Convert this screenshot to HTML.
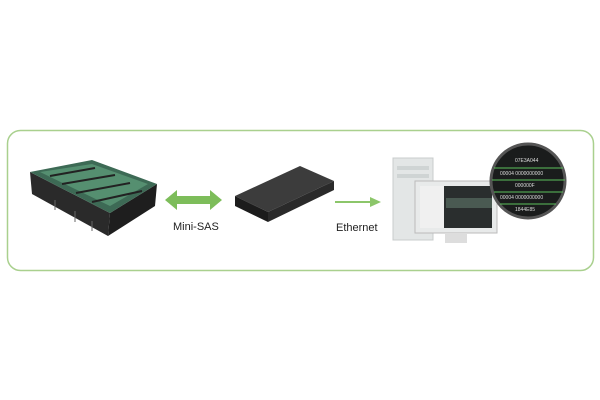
<!DOCTYPE html><html><head><style>html,body{margin:0;padding:0;background:#fff}svg{display:block}</style></head><body>
<svg width="600" height="400" viewBox="0 0 600 400" xmlns="http://www.w3.org/2000/svg" font-family="Liberation Sans, sans-serif">
<rect x="7.5" y="130.5" width="586" height="140" rx="13" fill="none" stroke="#a9d08e" stroke-width="1.5"/>
<!-- board -->
<polygon points="30,172 32,194 108,236 110,213" fill="#2a2a2a"/>
<polygon points="110,213 108,236 155,206 157,184" fill="#1e1e1e"/>
<polygon points="30,172 92,160 157,184 110,213" fill="#3d6a55"/>
<polygon points="40,172 92,164 148,184 110,206" fill="#558f70"/>
<g stroke="#222" stroke-width="2"><line x1="50" y1="176" x2="95" y2="168"/><line x1="62" y1="184" x2="115" y2="175"/><line x1="76" y1="193" x2="130" y2="183"/><line x1="92" y1="202" x2="142" y2="191"/></g>
<g stroke="#666" stroke-width="1"><line x1="55" y1="200" x2="55" y2="210"/><line x1="75" y1="211" x2="75" y2="222"/><line x1="92" y1="221" x2="92" y2="231"/></g>
<!-- double arrow -->
<polygon points="165,200 177,190 177,196 210,196 210,190 222,200 210,210 210,204 177,204 177,210" fill="#7dbd5a"/>
<text x="173" y="230" font-size="11" fill="#222">Mini-SAS</text>
<!-- rack -->
<polygon points="235,196 300,166 334,181 268,212" fill="#3c3c3c"/>
<polygon points="235,196 268,212 268,222 235,206" fill="#1c1c1c"/>
<polygon points="268,212 334,181 334,190 268,222" fill="#2a2a2a"/>
<!-- ethernet arrow -->
<line x1="335" y1="202" x2="372" y2="202" stroke="#8cc66a" stroke-width="2"/>
<polygon points="370,197 381,202 370,207" fill="#8cc66a"/>
<text x="336" y="231" font-size="11" fill="#222">Ethernet</text>
<!-- tower -->
<rect x="393" y="158" width="40" height="82" fill="#e3e6e6" stroke="#c8cccc"/>
<rect x="397" y="166" width="32" height="4" fill="#cfd4d4"/>
<rect x="397" y="174" width="32" height="4" fill="#cfd4d4"/>
<!-- monitor -->
<rect x="415" y="181" width="82" height="52" fill="#e8eaea" stroke="#bbb"/>
<rect x="420" y="186" width="72" height="42" fill="#2a2e2e"/>
<rect x="420" y="186" width="24" height="42" fill="#f0f0f0"/>
<rect x="446" y="198" width="46" height="10" fill="#4a5a52"/>
<rect x="445" y="233" width="22" height="10" fill="#ddd"/>
<!-- magnifier -->
<circle cx="528" cy="181" r="37" fill="#1a1c1c" stroke="#555" stroke-width="3"/>
<g stroke="#5cbf5c" stroke-width="1"><line x1="494" y1="168" x2="563" y2="168"/><line x1="492" y1="180" x2="565" y2="180"/><line x1="494" y1="192" x2="563" y2="192"/><line x1="500" y1="204" x2="556" y2="204"/></g>
<g font-size="5" fill="#ddd"><text x="515" y="162">07E3A044</text><text x="500" y="175">00004 0000000000</text><text x="515" y="187">000000F</text><text x="500" y="199">00004 0000000000</text><text x="515" y="211">1844E85</text></g>
</svg>
</body></html>
